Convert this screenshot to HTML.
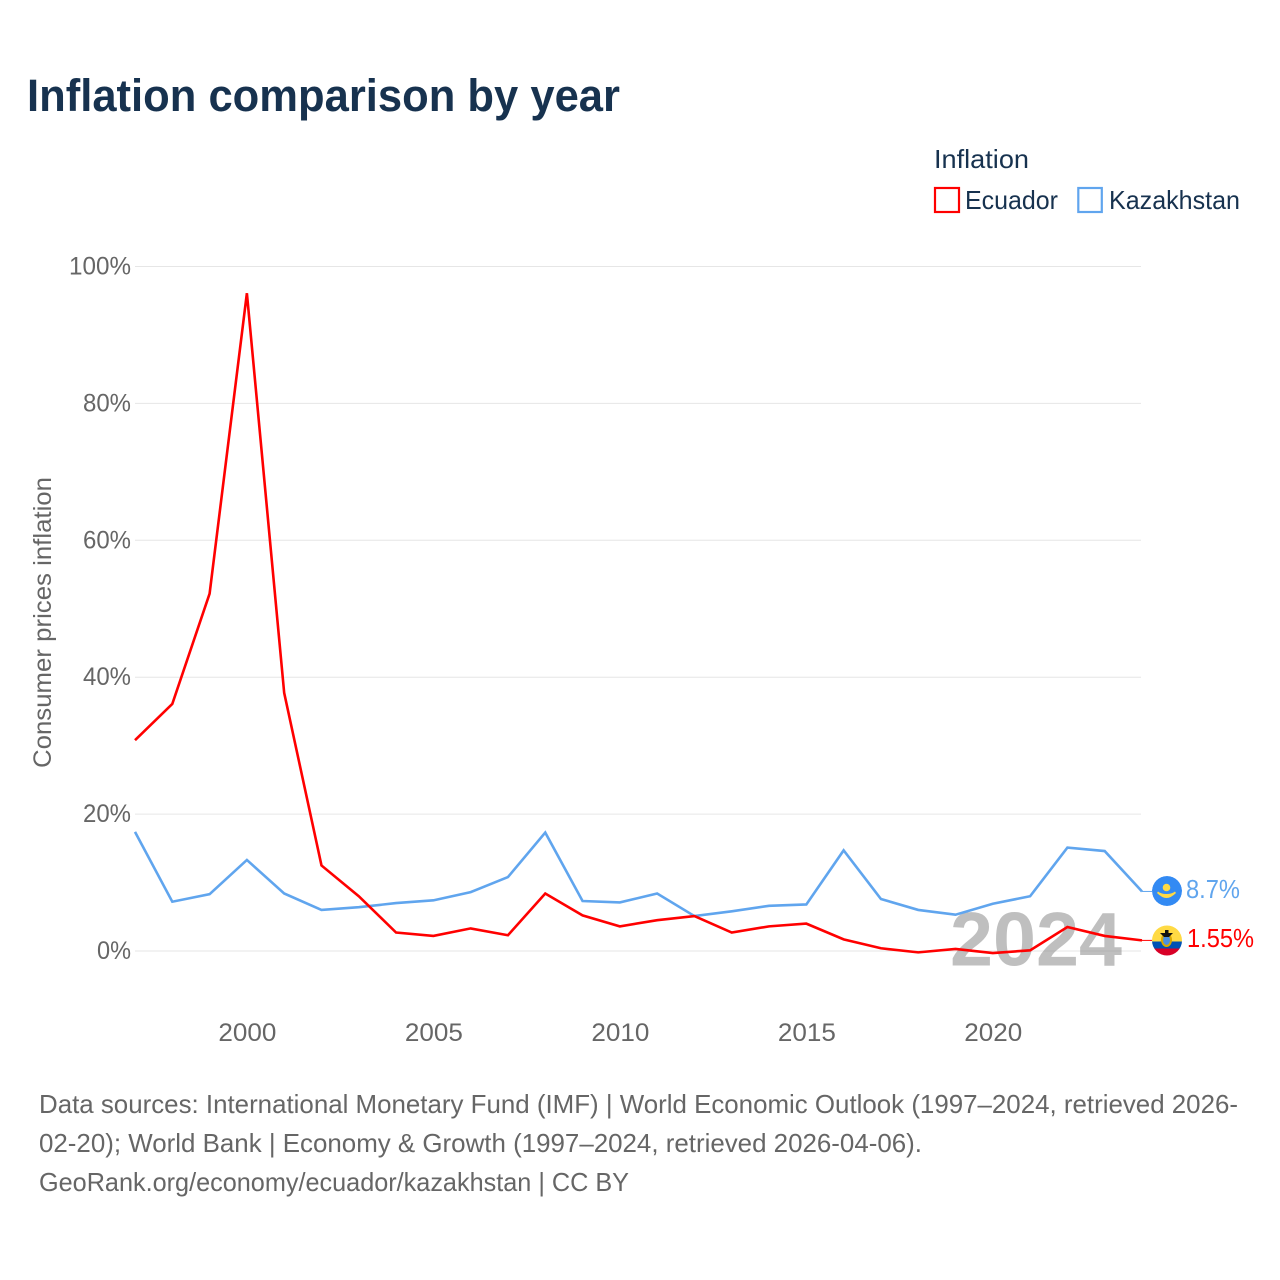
<!DOCTYPE html>
<html lang="en">
<head>
<meta charset="utf-8">
<title>Inflation comparison by year</title>
<style>
html,body{margin:0;padding:0;background:#fff;}
svg{display:block;font-family:"Liberation Sans",sans-serif;}
</style>
</head>
<body>
<svg id="chart" xmlns="http://www.w3.org/2000/svg" width="1280" height="1280" viewBox="0 0 1280 1280">
  <defs>
    <clipPath id="flag-clip-kz"><circle cx="1167" cy="891" r="15"/></clipPath>
    <clipPath id="flag-clip-ec"><circle cx="1167" cy="940.5" r="15"/></clipPath>
  </defs>
  <rect x="0" y="0" width="1280" height="1280" fill="#ffffff"/>
  <text x="27" y="111" font-size="45" font-weight="bold" fill="#17324f" textLength="593" lengthAdjust="spacingAndGlyphs">Inflation comparison by year</text>

  <g>
    <text x="934" y="168" font-size="26" fill="#17324f" textLength="95" lengthAdjust="spacingAndGlyphs">Inflation</text>
    <rect x="935" y="188" width="24" height="24" fill="none" stroke="#ff0000" stroke-width="2.2"/>
    <text x="965" y="209" font-size="26" fill="#17324f" textLength="93" lengthAdjust="spacingAndGlyphs">Ecuador</text>
    <rect x="1078.300" y="188" width="23.500" height="24" fill="none" stroke="#60a5ee" stroke-width="2.2"/>
    <text x="1109" y="209" font-size="26" fill="#17324f" textLength="131" lengthAdjust="spacingAndGlyphs">Kazakhstan</text>
  </g>

  <g id="grid"></g>
  <g id="y-ticks"></g>
  <g id="x-ticks"></g>
  <text transform="translate(51,768) rotate(-90)" x="0" y="0" font-size="25" fill="#666666" textLength="291" lengthAdjust="spacingAndGlyphs">Consumer prices inflation</text>

  <text x="950" y="965.500" font-size="76" font-weight="bold" fill="#808080" fill-opacity="0.5" textLength="172" lengthAdjust="spacingAndGlyphs">2024</text>

  <g id="series"></g>

  <g clip-path="url(#flag-clip-kz)">
    <circle cx="1167" cy="891" r="15" fill="#338af3"/>
    <circle cx="1166.500" cy="887.500" r="3.800" fill="#ffda44"/>
    <path d="M1158 891.500 Q1161 894 1166.500 894 Q1172 894 1175 891.500 L1176 893 Q1171 898 1166.500 898 Q1162 898 1157 893 Z" fill="#ffda44"/>
  </g>
  <g clip-path="url(#flag-clip-ec)">
    <rect x="1152" y="925" width="30" height="16.500" fill="#ffda44"/>
    <rect x="1152" y="941.500" width="30" height="7" fill="#0052b4"/>
    <rect x="1152" y="948.500" width="30" height="8" fill="#d80027"/>
    <ellipse cx="1166.500" cy="940" rx="5.500" ry="7" fill="#d8a800"/>
    <ellipse cx="1166.500" cy="940" rx="3.500" ry="5" fill="#4a90e2"/>
    <path d="M1160 933 L1173 933 L1169 937 L1164 937 Z" fill="#111111"/>
    <rect x="1165" y="930" width="3.500" height="4" fill="#111111"/>
  </g>

  <g id="value-labels"></g>

  <g font-size="26" fill="#666666">
    <text x="39" y="1113" textLength="1199" lengthAdjust="spacingAndGlyphs">Data sources: International Monetary Fund (IMF) | World Economic Outlook (1997–2024, retrieved 2026-</text>
    <text x="39" y="1152" textLength="883" lengthAdjust="spacingAndGlyphs">02-20); World Bank | Economy &amp; Growth (1997–2024, retrieved 2026-04-06).</text>
    <text x="39" y="1191" textLength="590" lengthAdjust="spacingAndGlyphs">GeoRank.org/economy/ecuador/kazakhstan | CC BY</text>
  </g>
</svg>
<script>
const years = [1997,1998,1999,2000,2001,2002,2003,2004,2005,2006,2007,2008,2009,2010,2011,2012,2013,2014,2015,2016,2017,2018,2019,2020,2021,2022,2023,2024];
const ecuadorValues = [30.8,36.1,52.2,96.1,37.7,12.5,8.0,2.7,2.2,3.3,2.3,8.4,5.2,3.6,4.5,5.1,2.7,3.6,4.0,1.7,0.4,-0.2,0.3,-0.3,0.1,3.5,2.2,1.55];
const kazakhstanValues = [17.4,7.2,8.3,13.3,8.4,6.0,6.4,7.0,7.4,8.6,10.8,17.3,7.3,7.1,8.4,5.1,5.8,6.6,6.8,14.7,7.6,6.0,5.3,6.9,8.0,15.1,14.6,8.7];
const yTickValues = [0,20,40,60,80,100];
const xTickYears = [2000,2005,2010,2015,2020];
const ecuadorLabel = "1.55%";
const kazakhstanLabel = "8.7%";

const SVG_NS = "http://www.w3.org/2000/svg";
function xScale(year){ return 135 + (year - 1997) * (1142 - 135) / (2024 - 1997); }
function yScale(value){ return 951 - value * (951 - 266.5) / 100; }

const gridGroup = document.getElementById("grid");
const yTickGroup = document.getElementById("y-ticks");
const xTickGroup = document.getElementById("x-ticks");
const seriesGroup = document.getElementById("series");
const labelGroup = document.getElementById("value-labels");

yTickValues.forEach(function(v){
  const line = document.createElementNS(SVG_NS, "line");
  
  
  line.setAttribute("x1", 135);
  line.setAttribute("x2", 1141);
  line.setAttribute("y1", yScale(v));
  line.setAttribute("y2", yScale(v));
  line.setAttribute("stroke", "#e6e6e6");
  line.setAttribute("stroke-width", "1");
  gridGroup.appendChild(line);

  const text = v + "%";
  const label = document.createElementNS(SVG_NS, "text");
  
  
  label.setAttribute("x", 131);
  label.setAttribute("y", yScale(v) + 8);
  label.setAttribute("text-anchor", "end");
  label.setAttribute("font-size", "25");
  label.setAttribute("fill", "#666666");
  label.setAttribute("textLength", (text.length - 1) * 14 + 20);
  label.setAttribute("lengthAdjust", "spacingAndGlyphs");
  label.textContent = text;
  yTickGroup.appendChild(label);
});

xTickYears.forEach(function(y){
  const label = document.createElementNS(SVG_NS, "text");
  
  
  label.setAttribute("x", xScale(y) + 0.5);
  label.setAttribute("y", 1041);
  label.setAttribute("text-anchor", "middle");
  label.setAttribute("font-size", "25");
  label.setAttribute("fill", "#666666");
  label.setAttribute("textLength", "58");
  label.setAttribute("lengthAdjust", "spacingAndGlyphs");
  label.textContent = String(y);
  xTickGroup.appendChild(label);
});

function drawSeries(values, color){
  const points = values.map(function(v, i){ return xScale(years[i]).toFixed(2) + "," + yScale(v).toFixed(2); }).join(" ");
  const path = document.createElementNS(SVG_NS, "polyline");
  
  
  path.setAttribute("points", points);
  path.setAttribute("fill", "none");
  path.setAttribute("stroke", color);
  path.setAttribute("stroke-width", "2.6");
  path.setAttribute("stroke-linejoin", "miter");
  seriesGroup.appendChild(path);

  const lastY = yScale(values[values.length - 1]);
  const lead = document.createElementNS(SVG_NS, "line");
  
  
  lead.setAttribute("x1", xScale(years[years.length - 1]));
  lead.setAttribute("x2", 1152);
  lead.setAttribute("y1", lastY);
  lead.setAttribute("y2", lastY);
  lead.setAttribute("stroke", color);
  lead.setAttribute("stroke-width", "1");
  seriesGroup.appendChild(lead);
}
drawSeries(kazakhstanValues, "#60a5ee");
drawSeries(ecuadorValues, "#ff0000");

function drawLabel(text, x, baseline, width, color){
  const label = document.createElementNS(SVG_NS, "text");
  
  
  label.setAttribute("x", x);
  label.setAttribute("y", baseline);
  label.setAttribute("font-size", "26");
  label.setAttribute("fill", color);
  label.setAttribute("textLength", width);
  label.setAttribute("lengthAdjust", "spacingAndGlyphs");
  label.textContent = text;
  labelGroup.appendChild(label);
}
drawLabel(kazakhstanLabel, 1186, 898, 54, "#60a5ee");
drawLabel(ecuadorLabel, 1187, 947, 67, "#ff0000");
</script>
</body>
</html>
